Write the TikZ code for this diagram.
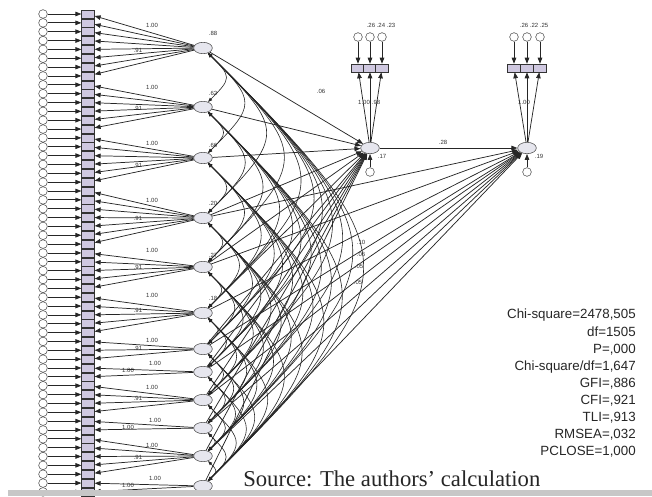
\documentclass[tikz,border=0pt]{standalone}
\usepackage{fontspec}
\setmainfont{Liberation Serif}
\newfontfamily\arialf{Liberation Sans}
\usetikzlibrary{arrows.meta,shapes.geometric}
\definecolor{lav}{HTML}{CFC8E0}
\definecolor{latf}{HTML}{E6E6EE}
\begin{document}
\begin{tikzpicture}[x=0.75pt,y=-0.75pt,
  errc/.style={circle,draw=black!70,fill=white,inner sep=0pt,minimum size=6.5pt,line width=0.4pt},
  obs/.style={rectangle,draw=black!80,fill=lav,minimum width=9.5pt,minimum height=6pt,inner sep=0pt,line width=0.4pt},
  lat/.style={ellipse,draw=black!70,fill=latf,minimum width=14pt,minimum height=8.5pt,inner sep=0pt,line width=0.4pt},
  arr/.style={-{Triangle[length=4.5pt,width=3.4pt]},black!85,line width=0.55pt},
  cov/.style={{Triangle[length=3.2pt,width=2.4pt]}-{Triangle[length=3.2pt,width=2.4pt]},black!85,line width=0.45pt},
  lbl/.style={font=\arialf\fontsize{4.5}{5}\selectfont,inner sep=0pt,text=black!80},
  stat/.style={font=\arialf\fontsize{10}{12.8}\selectfont,align=right,inner sep=0pt,text=black!85}]
\useasboundingbox (0,0) rectangle (652,496);
\fill[white] (0,0) rectangle (652,496);

% factors
\foreach \i/\y in {1/48,2/107,3/158,4/218,5/267,6/313,7/349,8/372,9/400,10/428,11/456,12/486}
  \node[lat] (F\i) at (203,\y) {};

% covariances between factors
\foreach \i in {1,...,11}{
  \pgfmathtruncatemacro\nn{\i+1}
  \foreach \j in {\nn,...,12}
    \draw[cov] (F\i) to[out=-45,in=45,looseness=1.75] (F\j);
}

% indicators, errors
\foreach \k in {0,...,54}{
  \pgfmathsetmacro\yy{14+8.85*\k}
  \node[errc] (e\k) at (43,\yy) {};
  \node[obs] (v\k) at (88,\yy) {};
  \draw[arr] (e\k) -- (v\k);
}
\foreach \f/\a/\b in {1/0/7,2/8/13,3/14/19,4/20/26,5/27/31,6/32/36,7/37/39,8/40/41,9/42/45,10/46/47,11/48/52,12/53/54}
  \foreach \k in {\a,...,\b}
    \draw[arr] (F\f) -- (v\k);

% loading labels
\foreach \y in {25,87,143,200,250,295,340,387,445}
  \node[lbl] at (152,\y) {1.00};
\foreach \y in {50,108,165,218,267,310,348,398,457}
  \node[lbl] at (138,\y) {.91};
\foreach \y in {363,420,478}
  \node[lbl] at (155,\y) {1.00};
\foreach \y in {370,427,485}
  \node[lbl] at (128,\y) {1.00};

% factor variances
\node[lbl] at (213,33) {.88};
\node[lbl] at (213,93) {.62};
\node[lbl] at (213,145) {.66};
\node[lbl] at (213,203) {.20};
\node[lbl] at (213,255) {.27};
\node[lbl] at (213,298) {.18};

% mediator and outcome
\node[lat] (M) at (370,148) {};
\node[lat] (Y) at (527,148) {};
\node[errc] (dM) at (370,172) {};
\node[errc] (dY) at (527,172) {};
\draw[arr] (dM) -- (M);
\draw[arr] (dY) -- (Y);
\node[lbl] at (382,156) {.17};
\node[lbl] at (539,156) {.19};

\foreach \f in {1,...,12}
  \draw[arr] (F\f) -- (M);
\foreach \f in {4,...,12}
  \draw[arr] (F\f) -- (Y);
\draw[arr] (M) -- (Y);
\node[lbl] at (443,142) {.28};
\node[lbl] at (321,91) {.06};
\node[lbl] at (361,242) {.10};
\node[lbl] at (361,254) {.06};
\node[lbl] at (359,266) {.05};
\node[lbl] at (358,282) {.05};

% indicators of M and Y
\foreach \n/\x in {1/358,2/370,3/382}{
  \node[obs] (m\n) at (\x,68) {};
  \node[errc] (me\n) at (\x,37) {};
  \draw[arr] (me\n) -- (m\n);
  \draw[arr] (M) -- (m\n);
}
\foreach \n/\x in {1/514,2/527,3/540}{
  \node[obs] (y\n) at (\x,68) {};
  \node[errc] (ye\n) at (\x,37) {};
  \draw[arr] (ye\n) -- (y\n);
  \draw[arr] (Y) -- (y\n);
}
\node[lbl] at (381,25) {.26 .24 .23};
\node[lbl] at (534,25) {.26 .22 .25};
\node[lbl] at (364,102) {1.00};
\node[lbl] at (376,102) {.98};
\node[lbl] at (524,102) {1.00};

% fit statistics
\node[stat,anchor=north east] at (636,309) {Chi-square=2478,505\\df=1505\\P=,000\\Chi-square/df=1,647\\GFI=,886\\CFI=,921\\TLI=,913\\RMSEA=,032\\PCLOSE=1,000};

% source
\fill[black!22] (8,490) rectangle (652,496);
\node[anchor=base west,inner sep=0pt,font=\fontsize{17}{20}\selectfont,text=black!85] at (243,486) {Source: The authors' calculation};
\end{tikzpicture}
\end{document}
